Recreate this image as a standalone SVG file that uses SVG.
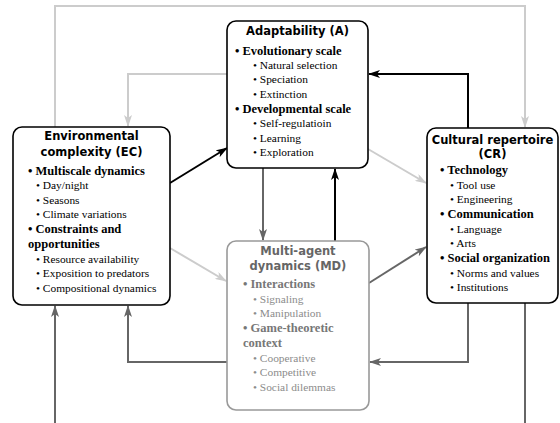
<svg xmlns="http://www.w3.org/2000/svg" width="560" height="423" viewBox="0 0 560 423">
<defs>
<style>
.box{fill:#fff;stroke:#000;stroke-width:1.6}
.gbox{fill:#fff;stroke:#999;stroke-width:1.6}
.t{font-family:"DejaVu Sans",sans-serif;font-weight:bold;font-size:11.5px;text-anchor:middle;fill:#000}
.b{font-family:"Liberation Serif",serif;font-weight:bold;font-size:12.5px;fill:#000}
.s{font-family:"Liberation Serif",serif;font-size:11.4px;fill:#000}
#MD .t{fill:#666}
#MD .b{fill:#777}
#MD .s{fill:#8c8c8c}
.k{fill:none;stroke:#000;stroke-width:2}
.d{fill:none;stroke:#666;stroke-width:2}
.l{fill:none;stroke:#ccc;stroke-width:2}
</style>
<marker id="ak" markerWidth="12" markerHeight="8" refX="11" refY="4" orient="auto" markerUnits="userSpaceOnUse"><path d="M0,0 L12,4 L0,8 L3,4 z" fill="#000"/></marker>
<marker id="ad" markerWidth="12" markerHeight="8" refX="11" refY="4" orient="auto" markerUnits="userSpaceOnUse"><path d="M0,0 L12,4 L0,8 L3,4 z" fill="#666"/></marker>
<marker id="al" markerWidth="12" markerHeight="8" refX="11" refY="4" orient="auto" markerUnits="userSpaceOnUse"><path d="M0,0 L12,4 L0,8 L3,4 z" fill="#ccc"/></marker>
</defs>
<g id="connectors">
<path class="l" d="M55,127 V6 H525 V127" marker-end="url(#al)"/>
<path class="l" d="M227,74 H128 V126" marker-end="url(#al)"/>
<path class="k" d="M468,128 V74 H369" marker-end="url(#ak)"/>
<path class="k" d="M170,183 L227,148" marker-end="url(#ak)"/>
<path class="l" d="M368,149 L426,183" marker-end="url(#al)"/>
<path class="l" d="M170,248 L226,281" marker-end="url(#al)"/>
<path class="d" d="M369,283 L426,247" marker-end="url(#ad)"/>
<path class="d" d="M263,168 V240" marker-end="url(#ad)"/>
<path class="k" d="M335,241 V169" marker-end="url(#ak)"/>
<path class="d" d="M227,362 H128 V306" marker-end="url(#ad)"/>
<path class="d" d="M468,303 V362 H370" marker-end="url(#ad)"/>
<path class="d" d="M55,423 V306" marker-end="url(#ad)"/>
<path class="d" d="M525,303 V423"/>
</g>
<g id="A">
<rect class="box" x="227" y="21" width="141" height="147" rx="9"/>
<text class="t" x="297.5" y="35">Adaptability (A)</text>
<text class="b" x="235" y="54.5">• Evolutionary scale</text>
<text class="s" x="253" y="69">• Natural selection</text>
<text class="s" x="253" y="83">• Speciation</text>
<text class="s" x="253" y="97.5">• Extinction</text>
<text class="b" x="235" y="112.5">• Developmental scale</text>
<text class="s" x="253" y="127">• Self-regulatioin</text>
<text class="s" x="253" y="141.5">• Learning</text>
<text class="s" x="253" y="156">• Exploration</text>
</g>
<g id="EC">
<rect class="box" x="13" y="127" width="157" height="178" rx="9"/>
<text class="t" x="91.5" y="140">Environmental</text>
<text class="t" x="91.5" y="156">complexity (EC)</text>
<text class="b" x="28" y="175">• Multiscale dynamics</text>
<text class="s" x="36" y="189">• Day/night</text>
<text class="s" x="36" y="203.5">• Seasons</text>
<text class="s" x="36" y="218">• Climate variations</text>
<text class="b" x="28" y="233">• Constraints and</text>
<text class="b" x="28" y="248">opportunities</text>
<text class="s" x="36" y="262.5">• Resource availability</text>
<text class="s" x="36" y="277">• Exposition to predators</text>
<text class="s" x="36" y="291.5">• Compositional dynamics</text>
</g>
<g id="CR">
<rect class="box" x="427" y="128" width="131" height="175" rx="9"/>
<text class="t" x="492.5" y="144">Cultural repertoire</text>
<text class="t" x="492.5" y="158">(CR)</text>
<text class="b" x="440" y="174">• Technology</text>
<text class="s" x="450" y="188.5">• Tool use</text>
<text class="s" x="450" y="203">• Engineering</text>
<text class="b" x="440" y="218">• Communication</text>
<text class="s" x="450" y="232.5">• Language</text>
<text class="s" x="450" y="247">• Arts</text>
<text class="b" x="440" y="262">• Social organization</text>
<text class="s" x="450" y="276.5">• Norms and values</text>
<text class="s" x="450" y="291">• Institutions</text>
</g>
<g id="MD">
<rect class="gbox" x="227" y="241" width="142" height="169" rx="9"/>
<text class="t" x="298" y="255">Multi-agent</text>
<text class="t" x="298" y="270">dynamics (MD)</text>
<text class="b" x="243" y="288">• Interactions</text>
<text class="s" x="253" y="302.5">• Signaling</text>
<text class="s" x="253" y="317">• Manipulation</text>
<text class="b" x="243" y="332">• Game-theoretic</text>
<text class="b" x="243" y="347">context</text>
<text class="s" x="253" y="361.5">• Cooperative</text>
<text class="s" x="253" y="376">• Competitive</text>
<text class="s" x="253" y="390.5">• Social dilemmas</text>
</g>
</svg>
